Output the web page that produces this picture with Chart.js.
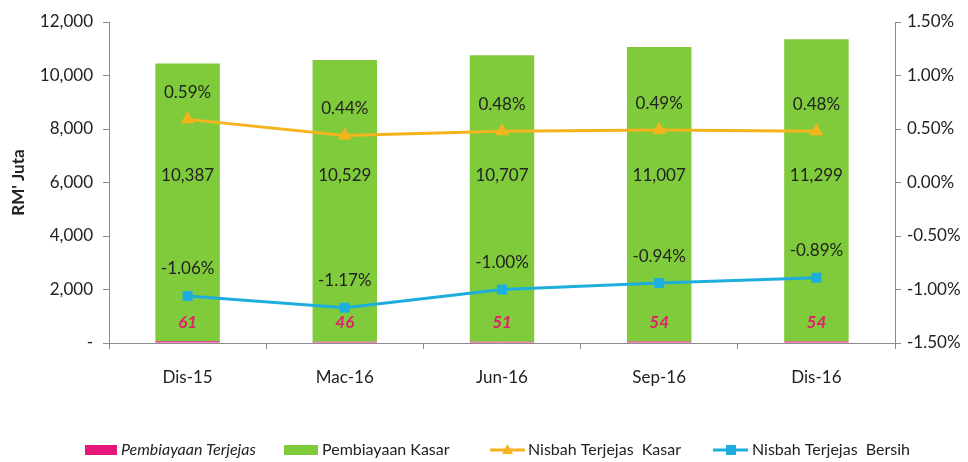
<!DOCTYPE html>
<html>
<head>
<meta charset="utf-8">
<script src="https://cdn.jsdelivr.net/npm/chart.js@4.4.1/dist/chart.umd.min.js"></script>
<style>
  html, body { margin: 0; padding: 0; background: #fff; }
  #wrap { width: 968px; height: 462px; position: relative; }
</style>
</head>
<body>
<div id="wrap"><canvas id="c" width="968" height="462"></canvas></div>
<script>
const categories = ['Dis-15', 'Mac-16', 'Jun-16', 'Sep-16', 'Dis-16'];
const pembiayaanTerjejas = [61, 46, 51, 54, 54];
const pembiayaanKasar = [10387, 10529, 10707, 11007, 11299];
const nisbahKasar = [0.59, 0.44, 0.48, 0.49, 0.48];
const nisbahBersih = [-1.06, -1.17, -1.00, -0.94, -0.89];
const leftTicks = [0, 2000, 4000, 6000, 8000, 10000, 12000];
const rightTicks = [-1.5, -1.0, -0.5, 0, 0.5, 1.0, 1.5];

const FONT = 'Lato, "Open Sans", sans-serif';
const TXT = '#222';
const C_MAG = '#E5187B';
const C_GREEN = '#80CB3C';
const C_YEL = '#F5B41E';
const C_BLUE = '#1EAEDC';
const AXIS = '#8c8c8c';

const labelsPlugin = {
  id: 'labels',
  afterDatasetsDraw(chart) {
    const ctx = chart.ctx;
    const y = chart.scales.y;
    ctx.save();
    ctx.textAlign = 'center';
    ctx.textBaseline = 'middle';
    const m0 = chart.getDatasetMeta(0);
    m0.data.forEach((el, i) => {
      ctx.font = 'italic bold 17px ' + FONT;
      ctx.fillStyle = '#E0206A';
      ctx.fillText(String(pembiayaanTerjejas[i]), el.x, y.getPixelForValue(0) - 20);
    });
    const m1 = chart.getDatasetMeta(1);
    m1.data.forEach((el, i) => {
      ctx.font = '17px ' + FONT;
      ctx.fillStyle = TXT;
      ctx.fillText(pembiayaanKasar[i].toLocaleString('en-US'), el.x, y.getPixelForValue(6250));
    });
    [[2, nisbahKasar], [3, nisbahBersih]].forEach(([di, arr]) => {
      const m = chart.getDatasetMeta(di);
      m.data.forEach((el, i) => {
        ctx.font = '17px ' + FONT;
        ctx.fillStyle = TXT;
        ctx.fillText(arr[i].toFixed(2) + '%', el.x, el.y - 27);
      });
    });
    ctx.restore();
  },
  afterDraw(chart) {
    const ctx = chart.ctx;
    ctx.save();
    ctx.textBaseline = 'middle';
    ctx.textAlign = 'left';
    const yc = 450;
    ctx.fillStyle = C_MAG;
    ctx.fillRect(85, yc - 5, 32, 10);
    ctx.font = 'italic 16px ' + FONT;
    ctx.fillStyle = TXT;
    ctx.fillText('Pembiayaan Terjejas', 121, yc);
    ctx.fillStyle = C_GREEN;
    ctx.fillRect(284, yc - 5, 34, 10);
    ctx.font = '16px ' + FONT;
    ctx.fillStyle = TXT;
    ctx.fillText('Pembiayaan Kasar', 322, yc);
    ctx.strokeStyle = C_YEL; ctx.lineWidth = 3;
    ctx.beginPath(); ctx.moveTo(490, yc); ctx.lineTo(525, yc); ctx.stroke();
    ctx.fillStyle = C_YEL;
    ctx.beginPath(); ctx.moveTo(507.5, yc - 6); ctx.lineTo(513, yc + 4); ctx.lineTo(502, yc + 4); ctx.closePath(); ctx.fill();
    ctx.fillStyle = TXT;
    ctx.fillText('Nisbah Terjejas  Kasar', 528, yc);
    ctx.strokeStyle = C_BLUE; ctx.lineWidth = 3;
    ctx.beginPath(); ctx.moveTo(713, yc); ctx.lineTo(748, yc); ctx.stroke();
    ctx.fillStyle = C_BLUE;
    ctx.fillRect(726, yc - 5, 10, 10);
    ctx.fillStyle = TXT;
    ctx.fillText('Nisbah Terjejas  Bersih', 752, yc);
    ctx.restore();
  }
};

new Chart(document.getElementById('c'), {
  type: 'bar',
  data: {
    labels: categories,
    datasets: [
      { type: 'bar', label: 'Pembiayaan Terjejas', data: pembiayaanTerjejas, backgroundColor: C_MAG, yAxisID: 'y', stack: 's', order: 2, barPercentage: 0.41, categoryPercentage: 1 },
      { type: 'bar', label: 'Pembiayaan Kasar', data: pembiayaanKasar, backgroundColor: C_GREEN, yAxisID: 'y', stack: 's', order: 2, barPercentage: 0.41, categoryPercentage: 1 },
      { type: 'line', label: 'Nisbah Terjejas  Kasar', data: nisbahKasar, borderColor: C_YEL, backgroundColor: C_YEL, borderWidth: 3, pointStyle: 'triangle', pointRadius: 5, yAxisID: 'y1', order: 1, tension: 0 },
      { type: 'line', label: 'Nisbah Terjejas  Bersih', data: nisbahBersih, borderColor: C_BLUE, backgroundColor: C_BLUE, borderWidth: 3, pointStyle: 'rect', pointRadius: 5, yAxisID: 'y1', order: 0, tension: 0 }
    ]
  },
  options: {
    responsive: false,
    animation: false,
    layout: { padding: { top: 22, bottom: 0, left: 8, right: 0 } },
    plugins: { legend: { display: false }, tooltip: { enabled: false } },
    scales: {
      x: {
        stacked: true,
        offset: true,
        grid: { display: true, drawOnChartArea: false, drawTicks: true, tickLength: 6, offset: true, color: AXIS },
        border: { display: true, color: AXIS },
        ticks: { color: TXT, font: { family: FONT, size: 17 }, padding: 18 },
        afterFit(s) { s.height = 119; }
      },
      y: {
        position: 'left',
        stacked: true,
        min: 0, max: 12000,
        afterBuildTicks(s) { s.ticks = leftTicks.map(v => ({ value: v })); },
        grid: { drawOnChartArea: false, drawTicks: true, tickLength: 6, color: AXIS },
        border: { display: true, color: AXIS },
        ticks: { color: TXT, font: { family: FONT, size: 17 }, padding: 10,
          callback: v => v === 0 ? '-' : v.toLocaleString('en-US') },
        title: { display: true, text: "RM' Juta", color: TXT, font: { family: FONT, size: 17, weight: 'bold' }, padding: 0 },
        afterFit(s) { s.width = 101; }
      },
      y1: {
        position: 'right',
        min: -1.5, max: 1.5,
        afterBuildTicks(s) { s.ticks = rightTicks.map(v => ({ value: v })); },
        grid: { drawOnChartArea: false, drawTicks: true, tickLength: 6, color: AXIS },
        border: { display: true, color: AXIS },
        ticks: { color: TXT, font: { family: FONT, size: 17 }, padding: 6,
          callback: v => v.toFixed(2) + '%' },
        afterFit(s) { s.width = 73; }
      }
    }
  },
  plugins: [labelsPlugin]
});
</script>
</body>
</html>
